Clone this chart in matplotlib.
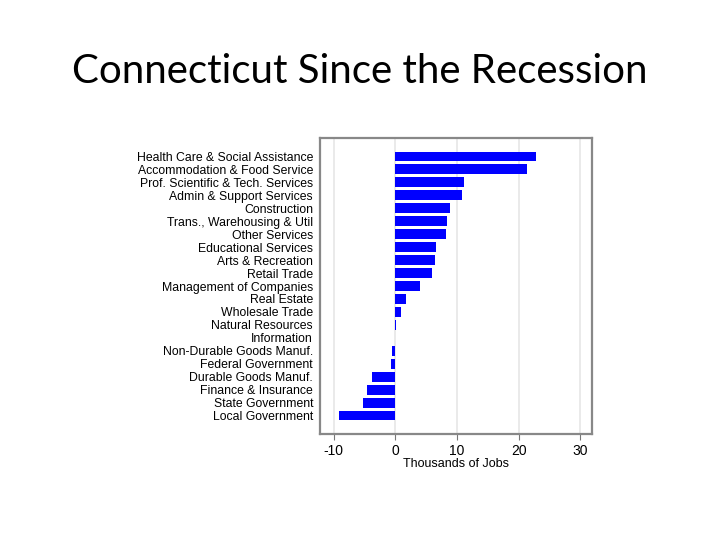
import matplotlib.pyplot as plt

# Sektor isimleri ve degerleri (bin is)
sektorler = ['Health Care & Social Assistance', 'Accommodation & Food Service',
             'Prof. Scientific & Tech. Services', 'Admin & Support Services',
             'Construction', 'Trans., Warehousing & Util', 'Other Services',
             'Educational Services', 'Arts & Recreation', 'Retail Trade',
             'Management of Companies', 'Real Estate', 'Wholesale Trade',
             'Natural Resources', 'Information', 'Non-Durable Goods Manuf.',
             'Federal Government', 'Durable Goods Manuf.', 'Finance & Insurance',
             'State Government', 'Local Government']
degerler = [22.8, 21.3, 11.2, 10.9, 8.9, 8.4, 8.2, 6.6, 6.5, 6.0, 4.0,
            1.8, 0.9, 0.1, -0.1, -0.6, -0.75, -3.8, -4.6, -5.2, -9.1]
x_ticks = [-10, 0, 10, 20, 30]

fig = plt.figure(figsize=(7.2, 5.4), dpi=100)
fig.text(0.5, 0.868, 'Connecticut Since the Recession', ha='center', va='center',
         fontsize=29, family='Lato', color='black')

ax = fig.add_axes([320 / 720, 1 - 434 / 540, 272 / 720, 296 / 540])
y = list(range(len(sektorler)))
ax.barh(y, degerler, height=0.72, color='#0000ff', zorder=3)

ax.set_xlim(-12.2, 31.9)
ax.set_ylim(21.4, -1.4)
ax.set_xticks(x_ticks)
ax.set_xticklabels([str(t) for t in x_ticks], fontsize=10, family='Liberation Sans')
ax.set_yticks(y)
ax.set_yticklabels(sektorler, fontsize=8.8, family='Liberation Sans')
ax.tick_params(axis='y', length=0, pad=5)
ax.tick_params(axis='x', length=4, color='#777777', pad=3)
ax.grid(axis='x', color='#e6e6e6', linewidth=1.2, zorder=0)
for s in ax.spines.values():
    s.set_color('#888888')
    s.set_linewidth(1.6)
ax.set_xlabel('Thousands of Jobs', fontsize=9, family='Liberation Sans', labelpad=0)

fig.savefig('out.png', dpi=100)
